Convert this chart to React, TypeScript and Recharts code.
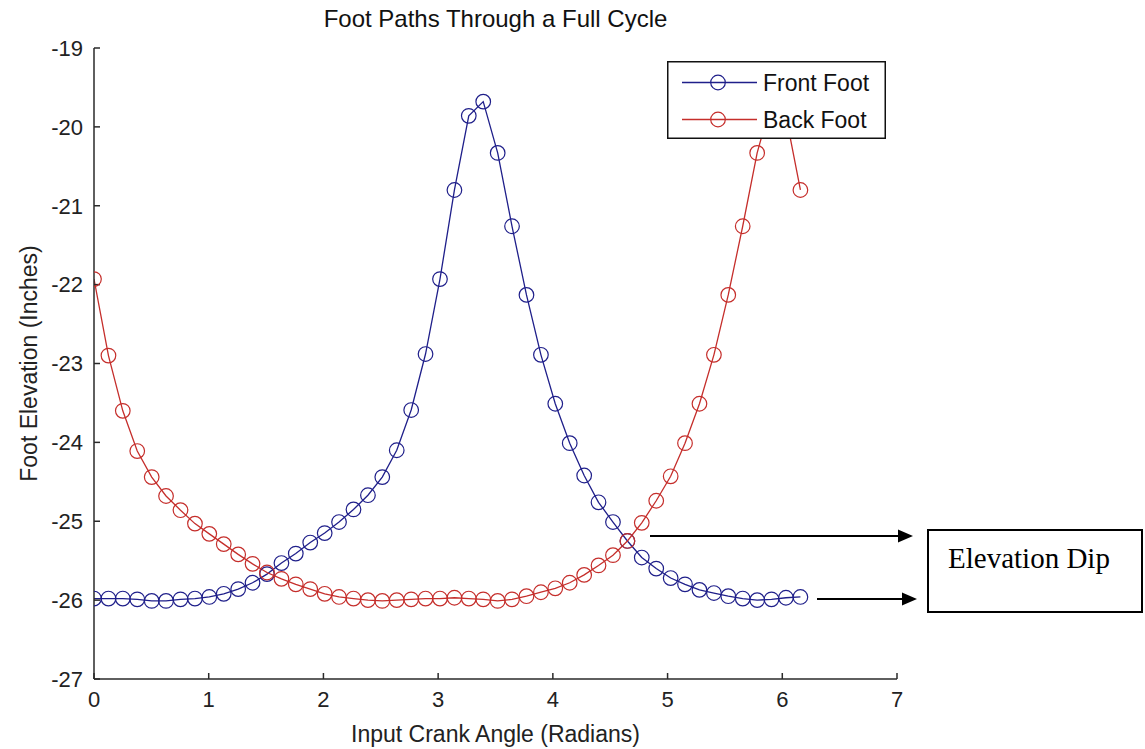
import React from 'react';
import { LineChart, Line, XAxis, YAxis, Legend } from 'recharts';

const crankAngle = [
  0, 0.126, 0.251, 0.377, 0.503, 0.628, 0.754, 0.88, 1.005, 1.131,
  1.257, 1.382, 1.508, 1.634, 1.759, 1.885, 2.011, 2.136, 2.262, 2.388,
  2.513, 2.639, 2.765, 2.89, 3.016, 3.142, 3.267, 3.393, 3.519, 3.644,
  3.77, 3.896, 4.021, 4.147, 4.273, 4.398, 4.524, 4.65, 4.775, 4.901,
  5.027, 5.152, 5.278, 5.404, 5.529, 5.655, 5.781, 5.906, 6.032, 6.158,
];

const frontFoot = [
  -25.98, -25.98, -25.98, -25.99, -26.01, -26.01, -25.99, -25.98, -25.96, -25.92,
  -25.86, -25.78, -25.67, -25.53, -25.41, -25.27, -25.15, -25.01, -24.85, -24.67,
  -24.44, -24.1, -23.59, -22.88, -21.93, -20.8, -19.86, -19.68, -20.33, -21.26,
  -22.13, -22.89, -23.51, -24.01, -24.42, -24.76, -25.01, -25.25, -25.46, -25.6,
  -25.72, -25.8, -25.87, -25.91, -25.95, -25.98, -26.0, -25.99, -25.97, -25.96,
];

const backFoot = [
  -21.93, -22.9, -23.6, -24.11, -24.44, -24.68, -24.86, -25.03, -25.16, -25.29,
  -25.42, -25.54, -25.65, -25.73, -25.8, -25.86, -25.92, -25.96, -25.98, -26.0,
  -26.01, -26.0, -25.99, -25.98, -25.98, -25.97, -25.98, -25.99, -26.01, -25.99,
  -25.95, -25.9, -25.85, -25.78, -25.68, -25.56, -25.43, -25.25, -25.02, -24.74,
  -24.43, -24.01, -23.51, -22.89, -22.13, -21.26, -20.33, -19.68, -19.86, -20.8,
];

const xTicks = [0, 1, 2, 3, 4, 5, 6, 7];
const yTicks = [-27, -26, -25, -24, -23, -22, -21, -20, -19];

const seriesNames = ['Front Foot', 'Back Foot'];
const seriesColors = ['#1f1f8a', '#c52e2b'];

const titleText = 'Foot Paths Through a Full Cycle';
const xLabel = 'Input Crank Angle (Radians)';
const yLabel = 'Foot Elevation (Inches)';
const annotationText = 'Elevation Dip';

const data = crankAngle.map((x, i) => ({ x, front: frontFoot[i], back: backFoot[i] }));

const FONT = '"Liberation Sans", Arial, Helvetica, sans-serif';
const AXIS = '#2a2a2a';
const MARKER_R = 7.3;

const renderLegend = () => (
  <svg width={219} height={78} style={{ display: 'block', background: '#fff' }}>
    <rect x={0.75} y={0.75} width={217.5} height={76.5} fill="#fff" stroke="#111" strokeWidth={1.5} />
    {seriesNames.map((name, i) => {
      const cy = 21.5 + i * 37;
      return (
        <g key={name}>
          <line x1={15} x2={90} y1={cy} y2={cy} stroke={seriesColors[i]} strokeWidth={1.3} />
          <circle cx={51} cy={cy} r={MARKER_R} fill="none" stroke={seriesColors[i]} strokeWidth={1.2} />
          <text x={96} y={cy + 8} fontSize={23} fontFamily={FONT} fill="#111">{name}</text>
        </g>
      );
    })}
  </svg>
);

export default function App() {
  return (
    <div style={{ position: 'absolute', left: 0, top: 0, width: 1145, height: 749, background: '#fff' }}>
      <LineChart
        width={1145}
        height={749}
        data={data}
        margin={{ top: 48, right: 248, bottom: 0, left: 0 }}
        style={{ fontFamily: FONT }}
      >
        <XAxis
          dataKey="x"
          type="number"
          domain={[0, 7]}
          ticks={xTicks}
          interval={0}
          allowDataOverflow
          height={70}
          tickSize={-6}
          tickMargin={18}
          axisLine={{ stroke: AXIS, strokeWidth: 1.5 }}
          tickLine={{ stroke: AXIS, strokeWidth: 1.5 }}
          tick={{ fill: '#222', fontSize: 22, fontFamily: FONT }}
          label={{ value: xLabel, position: 'insideBottom', offset: 7, fill: '#222', fontSize: 23, fontFamily: FONT }}
        />
        <YAxis
          type="number"
          domain={[-27, -19]}
          ticks={yTicks}
          interval={0}
          allowDataOverflow
          width={94}
          tickSize={-6}
          tickMargin={17}
          axisLine={{ stroke: AXIS, strokeWidth: 1.5 }}
          tickLine={{ stroke: AXIS, strokeWidth: 1.5 }}
          tick={{ fill: '#222', fontSize: 22, fontFamily: FONT }}
          label={{
            value: yLabel,
            angle: -90,
            position: 'insideLeft',
            offset: 29,
            fill: '#222',
            fontSize: 23,
            fontFamily: FONT,
            style: { textAnchor: 'middle' },
          }}
        />
        <Line
          type="linear"
          dataKey="front"
          name={seriesNames[0]}
          stroke={seriesColors[0]}
          strokeWidth={1.3}
          dot={{ r: MARKER_R, fill: 'none', stroke: seriesColors[0], strokeWidth: 1.2 }}
          isAnimationActive={false}
        />
        <Line
          type="linear"
          dataKey="back"
          name={seriesNames[1]}
          stroke={seriesColors[1]}
          strokeWidth={1.3}
          dot={{ r: MARKER_R, fill: 'none', stroke: seriesColors[1], strokeWidth: 1.2 }}
          isAnimationActive={false}
        />
        <Legend
          layout="vertical"
          align="center"
          verticalAlign="middle"
          content={renderLegend}
          wrapperStyle={{ left: 667, top: 61, width: 219, height: 78, right: 'auto', bottom: 'auto' }}
        />
      </LineChart>
      <svg
        width={1145}
        height={749}
        style={{ position: 'absolute', left: 0, top: 0, pointerEvents: 'none' }}
      >
        <text x={495.5} y={27} textAnchor="middle" fontSize={24} fontFamily={FONT} fill="#111">
          {titleText}
        </text>
        <line x1={650} y1={536} x2={899} y2={536} stroke="#000" strokeWidth={2} />
        <polygon points="898,529.5 913,536 898,542.5" fill="#000" />
        <line x1={817} y1={599} x2={903} y2={599} stroke="#000" strokeWidth={2} />
        <polygon points="902,592.5 917,599 902,605.5" fill="#000" />
        <rect x={928} y={530} width={214} height={82} fill="#fff" stroke="#000" strokeWidth={2} />
        <text x={948} y={568} fontSize={29} fontFamily='"Liberation Serif", "Times New Roman", serif' fill="#000">
          {annotationText}
        </text>
      </svg>
    </div>
  );
}
